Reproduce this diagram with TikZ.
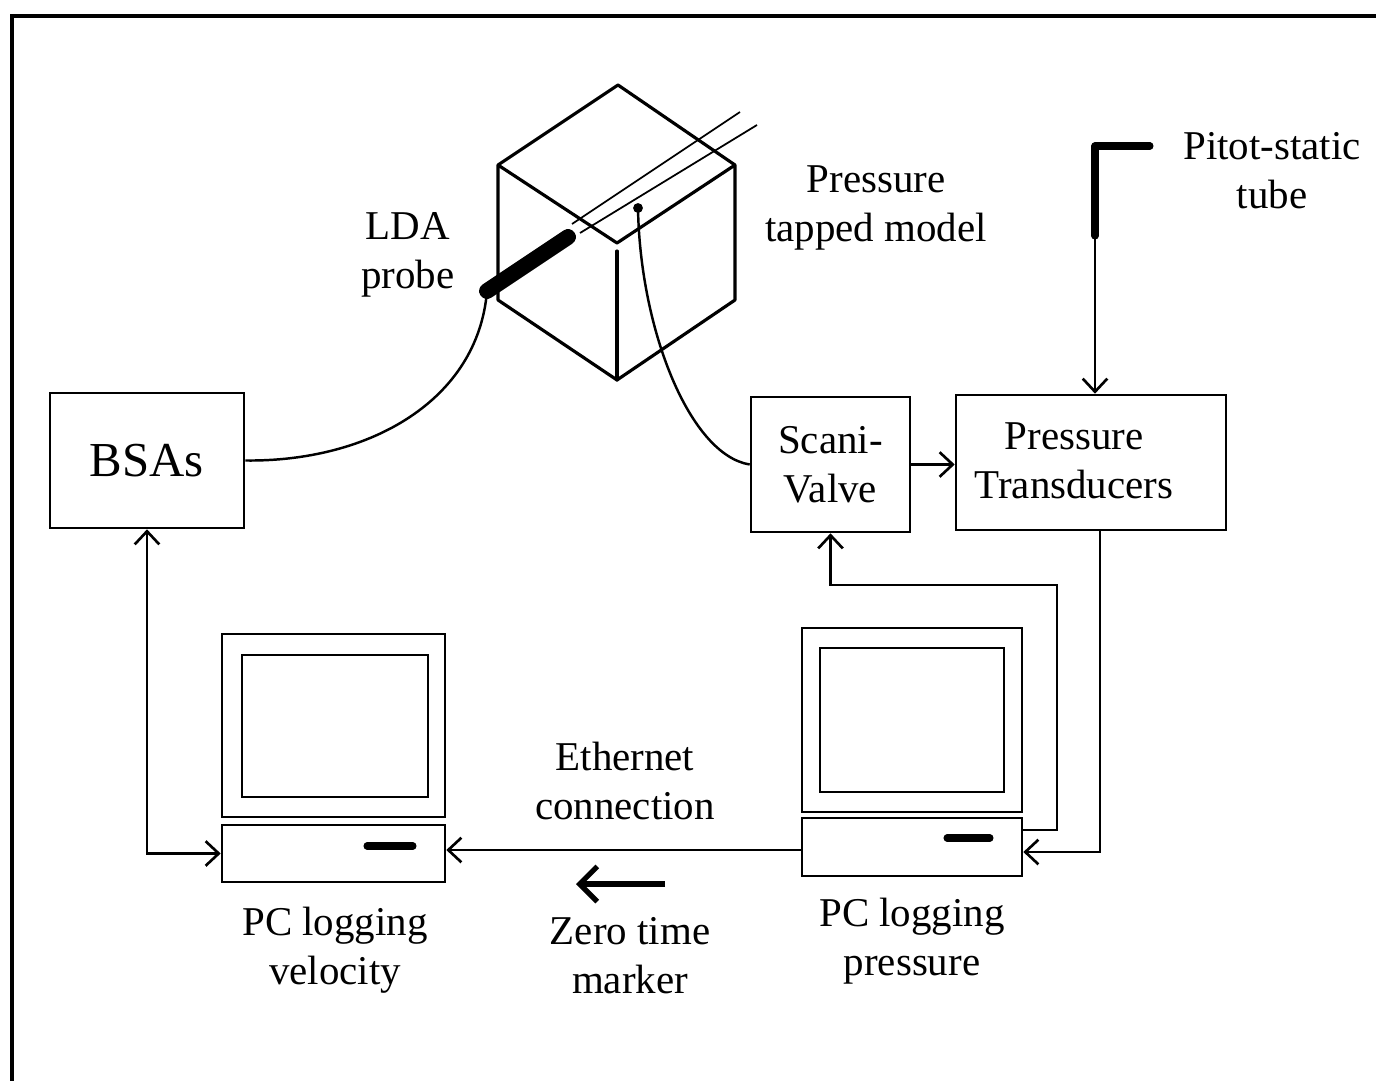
\documentclass[tikz,border=0pt]{standalone}
\usepackage{fontspec}
\setmainfont{Liberation Serif}
\usetikzlibrary{arrows.meta}
\newcommand{\lblfont}{\fontsize{23.3}{27.9}\selectfont}
\newcommand{\bigfont}{\fontsize{27.8}{32}\selectfont}
\begin{document}
\begin{tikzpicture}[x=0.02cm,y=-0.02cm,
  box/.style={draw,line width=1.5pt,inner sep=0pt,align=center,font=\lblfont},
  txt/.style={align=center,font=\lblfont,inner sep=0pt},
  wire/.style={line width=1.4pt},
  edge3d/.style={line width=1.8pt,line cap=round,line join=round},
  >={Straight Barb[length=7.5pt,width=14pt,line width=1.5pt]}]
\useasboundingbox (0,0) rectangle (1376,1081);

% outer frame
\draw[line width=2pt] (12,1081) -- (12,16) -- (1376,16);

% ---- model cube ----
\coordinate (ctop) at (618,85);
\coordinate (cleft) at (498,165);
\coordinate (cright) at (735,165);
\coordinate (cfront) at (617,243);
\coordinate (clb) at (498,300);
\coordinate (crb) at (735,300);
\coordinate (cbot) at (617,380);
\draw[edge3d] (cleft) -- (ctop) -- (cright) -- (cfront) -- (cleft) -- (clb) -- (cbot) -- (crb) -- (cright);
\draw[edge3d] (617,251) -- (cbot);

% laser beams
\coordinate (beamAs) at (572,224);
\coordinate (beamAe) at (740,112);
\coordinate (beamBs) at (580,233);
\coordinate (beamBe) at (757,125);
\draw[line width=1pt] (beamAs) -- (beamAe);
\draw[line width=1pt] (beamBs) -- (beamBe);

% LDA probe
\coordinate (probeback) at (487,291);
\coordinate (probetip) at (568,237);
\draw[line width=9pt,line cap=round] (probeback) -- (probetip);

% pressure tap
\coordinate (tap) at (638,208);
\fill (tap) circle (2.8pt);

% ---- labels ----
\node[txt] (ldalbl) at (408,255) {LDA\\probe};
\node[txt] (modellbl) at (876,208) {Pressure\\tapped model};
\node[txt] (pitotlbl) at (1272,171) {Pitot-static\\tube};

% ---- boxes ----
\node[box,minimum width=3.88cm,minimum height=2.7cm,font=\bigfont] (bsa) at (147,460.5) {BSAs};
\node[box,minimum width=3.18cm,minimum height=2.7cm] (scani) at (830.5,464.5) {Scani-\\Valve};
\node[box,minimum width=5.4cm,minimum height=2.7cm] (trans) at (1091,462.5) {};
\node[txt] (translbl) at (1074,461) {Pressure\\Transducers};

% ---- computers ----
\node[box,minimum width=4.46cm,minimum height=3.66cm] (pcvmon) at (333.5,725.5) {};
\node[box,minimum width=3.72cm,minimum height=2.84cm] (pcvscr) at (335,726) {};
\node[box,minimum width=4.46cm,minimum height=1.14cm] (pcvbase) at (333.5,853.5) {};
\draw[line width=4pt,line cap=round] (367,846) -- (413,846);

\node[box,minimum width=4.4cm,minimum height=3.68cm] (pcpmon) at (912,720) {};
\node[box,minimum width=3.68cm,minimum height=2.88cm] (pcpscr) at (912,720) {};
\node[box,minimum width=4.4cm,minimum height=1.16cm] (pcpbase) at (912,847) {};
\draw[line width=4pt,line cap=round] (947,838) -- (990,838);

\node[txt] (pcvlbl) at (335,950) {PC logging\\velocity};
\node[txt] (pcplbl) at (912,941) {PC logging\\pressure};
\node[txt] (ethlbl) at (625,781) {Ethernet\\connection};
\node[txt] (zerolbl) at (630,956) {Zero time\\marker};

% ---- connectors ----
% LDA cable to BSAs
\draw[wire] (probeback) .. controls (478,400) and (370,462) .. (bsa.east);
% pressure tubing to Scani-Valve
\draw[wire] (tap) .. controls (640,330) and (690,455) .. (scani.west);
% Scani-Valve to transducers
\draw[wire,->] (scani.east) -- (scani.east -| trans.west);
% Pitot-static tube
\coordinate (pitotcorner) at (1095,146);
\coordinate (pitotend) at (1095,236);
\draw[line width=4pt,line join=round,line cap=round] (1150,146) -- (pitotcorner) -- (pitotend);
\draw[wire,->] (pitotend) -- (pitotend |- trans.north);
% transducers to pressure PC
\coordinate (tdrop) at (1100,852);
\draw[wire,->] (tdrop |- trans.south) -- (tdrop) -- (tdrop -| pcpbase.east);
% pressure PC controls Scani-Valve
\coordinate (sloop) at (1057,585);
\coordinate (sret) at (1057,830);
\draw[wire,<-] (scani.south) |- (sloop) -- (sret) -- (sret -| pcpbase.east);
% ethernet link
\coordinate (ethstart) at (802,850);
\draw[wire,->] (ethstart -| pcpbase.west) -- (ethstart -| pcvbase.east);
% BSAs to velocity PC
\draw[wire,<->] (bsa.south) |- (pcvbase.west);
% zero time marker
\coordinate (zmstart) at (665,884);
\coordinate (zmend) at (576,884);
\draw[line width=3.4pt,-{Straight Barb[length=10pt,width=20pt,line width=3pt]}] (zmstart) -- (zmend);
\end{tikzpicture}
\end{document}
